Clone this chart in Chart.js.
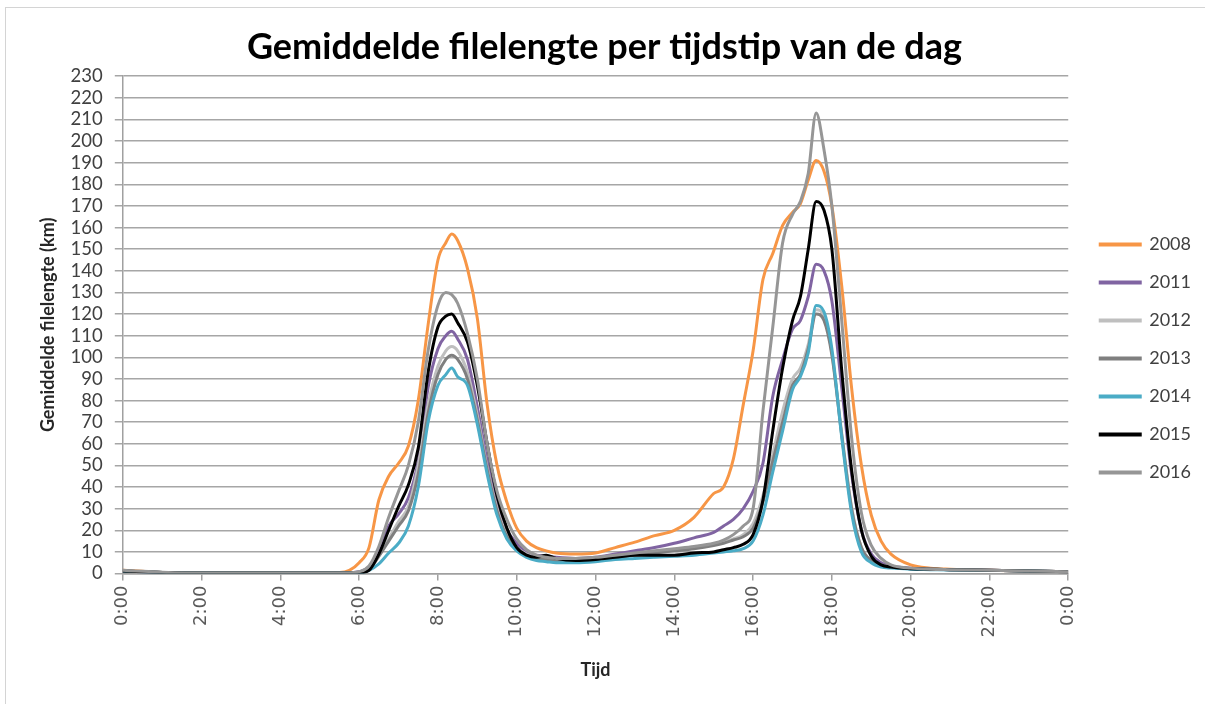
<!DOCTYPE html>
<html>
<head>
<meta charset="utf-8">
<script src="https://cdn.jsdelivr.net/npm/chart.js@4/dist/chart.umd.min.js"></script>
<style>
    body { margin: 0; background: #fff; }
    #wrap { position: relative; width: 1205px; height: 704px; }
    #frame { position: absolute; left: 5px; top: 7px; right: 0; bottom: 0;
             border-left: 1px solid #d4d4d4; border-top: 1px solid #d4d4d4; pointer-events: none; }
</style>
</head>
<body>
<div id="wrap">
    <canvas id="chart-traffic" width="1205" height="704"></canvas>
    <div id="frame"></div>
</div>
<script>
// tijdstip in uren
const hours = [0, 0.5, 1, 2, 4, 5.5, 5.75, 6, 6.25, 6.5, 6.75, 7, 7.25, 7.5, 7.75,
    8, 8.2, 8.35, 8.5, 8.75, 9, 9.25, 9.5, 9.75, 10, 10.25, 10.5, 10.75, 11, 11.5,
    12, 12.5, 13, 13.5, 14, 14.5, 15, 15.25, 15.5, 15.75, 16, 16.25, 16.5, 16.75, 17,
    17.2, 17.4, 17.6, 17.8, 18, 18.25, 18.5, 18.75, 19, 19.25, 19.5, 20, 20.5, 21, 22, 23, 24];

const years = ['2008', '2011', '2012', '2013', '2014', '2015', '2016'];
const colors = ['#F79646', '#8064A2', '#BFBFBF', '#7F7F7F', '#4BACC6', '#000000', '#969696'];

const km2008 = [1.5, 1, 0.5, 0.2, 0.2, 0.5, 1.5, 5, 12, 34, 45, 51, 59, 80, 115,
    145, 153, 157, 154, 141, 118, 78, 50, 33, 21, 15, 12, 10.5, 9.5, 9,
    9.5, 12, 14.5, 17.5, 20, 26, 37, 40, 53, 78, 103, 136, 148, 161, 167,
    171, 182, 191, 186, 170, 133, 86, 50, 27, 15, 9, 4, 2.5, 2, 1.5, 1.2, 0.8];
const km2011 = [1.2, 0.8, 0.5, 0.2, 0.2, 0.2, 0.3, 0.8, 3, 10, 22, 27.5, 35, 52, 86,
    104, 110, 112, 108.5, 99, 77, 52, 32, 20, 14, 9.5, 8.5, 8, 7.5, 7,
    7.5, 9, 10.5, 12, 14, 16.5, 19, 22, 25, 30, 38, 51, 82, 99, 113,
    117, 128, 143, 140, 126, 86, 46, 20, 9, 5, 3.5, 2.5, 2, 1.8, 1.5, 1.2, 0.8];
const km2012 = [1.2, 0.8, 0.5, 0.2, 0.2, 0.2, 0.3, 0.6, 2, 8, 16, 24, 31, 50, 78,
    96, 103, 105, 103, 93, 73, 49, 30, 18, 12, 9, 7.5, 7, 6.5, 6.5,
    7, 8, 9, 10, 11, 12, 13.5, 14.5, 16, 18, 23, 36, 55, 75, 90,
    95, 106, 122, 119, 102, 65, 31, 12, 6, 4, 3, 2.2, 2, 1.8, 1.5, 1.2, 0.8];
const km2013 = [1.2, 0.8, 0.5, 0.2, 0.2, 0.2, 0.3, 0.6, 2, 8, 15, 22, 29, 46, 74,
    92, 99, 101, 99, 90, 71, 48, 29, 17, 11, 8, 7, 6.5, 6, 6,
    6.5, 7.5, 8.5, 9.5, 10.5, 11.5, 13, 14, 15.5, 17, 21, 33, 52, 70, 87,
    92, 104, 120, 117, 101, 64, 30, 12, 6, 4, 3, 2.2, 2, 1.8, 1.5, 1.2, 0.8];
const km2014 = [1.2, 0.8, 0.5, 0.2, 0.2, 0.2, 0.2, 0.3, 1.5, 4.5, 9.5, 14, 22, 40, 70,
    87, 92, 95, 91, 87, 69, 46, 27, 16, 10.5, 7.5, 6, 5.5, 5, 5,
    5.5, 6.5, 7, 7.5, 8, 8.5, 9.5, 10, 10.5, 11.5, 15, 27, 47, 66, 85,
    91, 102, 124, 121, 104, 63, 28, 10, 5, 3, 2.5, 2, 1.8, 1.6, 1.4, 1.2, 0.8];
const km2015 = [1.2, 0.8, 0.5, 0.2, 0.2, 0.2, 0.2, 0.3, 1.5, 9, 20, 31, 41, 58, 93,
    114, 119, 120, 116, 107, 87, 60, 36, 21, 12, 8.5, 7.5, 8.5, 7, 6,
    6.5, 7.5, 8.5, 8.5, 8.5, 9.5, 10, 11, 12, 13.5, 18, 34, 66, 95, 117,
    128, 150, 172, 168, 150, 94, 48, 20, 8, 4, 3, 2.2, 2, 1.8, 1.5, 1.2, 0.8];
const km2016 = [1.5, 1, 0.6, 0.2, 0.2, 0.2, 0.3, 0.8, 3.5, 12.5, 26, 38, 50, 70, 103,
    124, 130, 129, 125, 111, 90, 60, 38, 25, 16, 11, 8.5, 7.5, 7, 7,
    7.5, 8.5, 9.5, 10.5, 11.5, 12.5, 14, 15.5, 18, 22, 30, 75, 114, 153, 166,
    172, 185, 213, 196, 170, 117, 63, 28, 13, 7, 4, 2.5, 2, 1.8, 1.5, 1.2, 0.8];

const series = [km2008, km2011, km2012, km2013, km2014, km2015, km2016];

// legenda iets naar rechts/onder, zoals in het origineel
const legendShift = {
    id: 'legendShift',
    afterLayout(chart) {
        const l = chart.legend;
        l.left += 12; l.right += 12;
        l.top += 13; l.bottom += 13;
    }
};

class Main {
    constructor() {
        this.canvas = document.getElementById('chart-traffic');
        this.initChart();
    }

    initChart() {
        const datasets = years.map((year, i) => ({
            label: year,
            data: hours.map((h, j) => ({x: h, y: series[i][j]})),
            borderColor: colors[i],
            backgroundColor: colors[i],
            borderWidth: 3,
            pointRadius: 0,
            cubicInterpolationMode: 'monotone',
            order: years.length - i,
        }));

        const config = {
            type: 'line',
            data: {datasets},
            plugins: [legendShift],
            options: {
                responsive: false,
                animation: false,
                layout: {padding: {top: 10, left: 20, right: 16, bottom: 23}},
                plugins: {
                    title: {
                        display: true,
                        text: 'Gemiddelde filelengte per tijdstip van de dag',
                        color: '#000',
                        font: {family: 'Lato', size: 36, weight: 'bold'},
                        padding: {top: 16, bottom: 7},
                    },
                    legend: {
                        position: 'right',
                        labels: {
                            color: '#404040',
                            font: {family: 'Lato', size: 18},
                            boxWidth: 40,
                            boxHeight: 1,
                            padding: 20,
                            sort: (a, b) => a.datasetIndex - b.datasetIndex,
                        },
                    },
                    tooltip: {enabled: false},
                },
                scales: {
                    x: {
                        type: 'linear',
                        min: 0,
                        max: 24,
                        ticks: {
                            stepSize: 2,
                            autoSkip: false,
                            minRotation: 90,
                            maxRotation: 90,
                            padding: 5,
                            color: '#595959',
                            font: {family: 'DejaVu Sans', size: 18},
                            callback: (v) => (v % 24) + ':00',
                        },
                        grid: {
                            drawOnChartArea: false,
                            tickColor: '#a0a0a0',
                            tickLength: 7,
                            lineWidth: 1.5,
                        },
                        border: {display: true, color: '#a0a0a0', width: 1.5},
                        title: {
                            display: true,
                            text: 'Tijd',
                            color: '#262626',
                            font: {family: 'Lato', size: 18, weight: 'bold'},
                            padding: {top: 17, bottom: 0},
                        },
                    },
                    y: {
                        min: 0,
                        max: 230,
                        ticks: {
                            stepSize: 10,
                            maxTicksLimit: 30,
                            autoSkip: false,
                            padding: 12,
                            color: '#404040',
                            font: {family: 'Lato', size: 18.5},
                        },
                        grid: {
                            color: '#a6a6a6',
                            lineWidth: 1.5,
                            tickLength: 8,
                        },
                        border: {display: true, color: '#a0a0a0', width: 1.5},
                        title: {
                            display: true,
                            text: 'Gemiddelde filelengte (km)',
                            color: '#262626',
                            font: {family: 'Lato', size: 18, weight: 'bold'},
                            padding: {top: 17, bottom: 0},
                        },
                    },
                },
            },
        };
        new Chart(this.canvas, config);
    }
}

window.onload = () => {
    new Main();
}
</script>
</body>
</html>
